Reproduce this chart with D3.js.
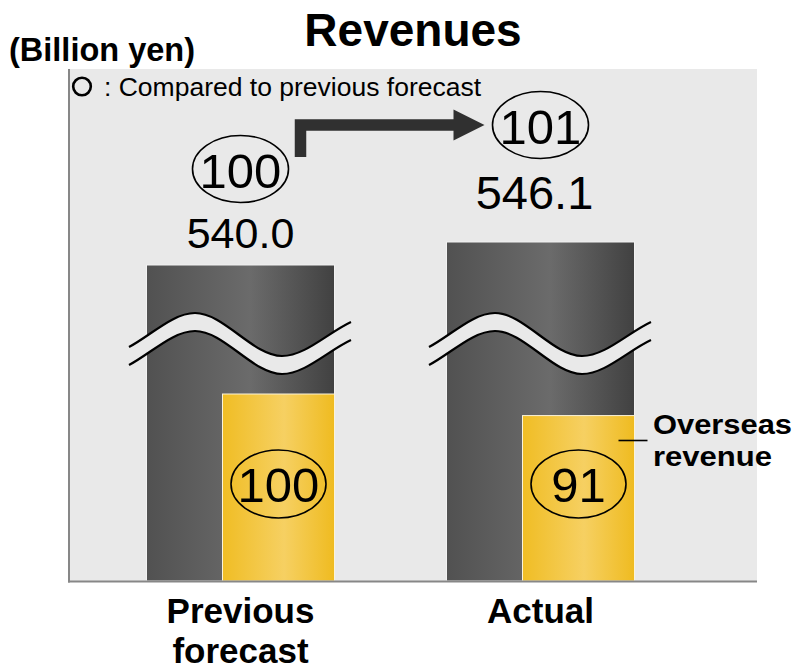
<!DOCTYPE html>
<html>
<head>
<meta charset="utf-8">
<script src="https://cdn.jsdelivr.net/npm/d3@7"></script>
<style>
  html, body { margin: 0; padding: 0; background: #ffffff; }
  svg { display: block; }
  text { font-family: "Liberation Sans", Arial, Helvetica, sans-serif; fill: #000; }
</style>
</head>
<body>
<svg id="chart" width="800" height="668"></svg>
<script>
// Revenues, billion yen
const categories = ["Previous forecast", "Actual"];
const categoryLines = [["Previous", "forecast"], ["Actual"]];
const revenue = [540.0, 546.1];
// Indices compared to the previous forecast (= 100)
const revenueIndex = [100, 101];
const overseasIndex = [100, 91];

const panel = { x0: 68, x1: 757, y0: 69, y1: 581 };
const barW = 188;           // full revenue bar
const overW = 112;          // overseas bar, right-aligned inside the revenue bar
const labelLift = [17, 33]; // value label baseline above the bar top
const valueSize = [43, 47];

const svg = d3.select("#chart");

const x = d3.scalePoint().domain(categories).range([240.5, 540.5]);
// upper (broken) part of the revenue axis
const yRev = d3.scaleLinear().domain([540, 546.1]).range([265, 242]);
// overseas share, drawn below the break on a truncated axis
const yOver = d3.scaleLinear().domain([22, 100]).range([panel.y1, 394]);

// gradients
const defs = svg.append("defs");
const dg = defs.append("linearGradient").attr("id", "darkGrad").attr("x1", 0).attr("x2", 1).attr("y1", 0).attr("y2", 0);
dg.append("stop").attr("offset", "0%").attr("stop-color", "#515151");
dg.append("stop").attr("offset", "55%").attr("stop-color", "#6b6b6b");
dg.append("stop").attr("offset", "100%").attr("stop-color", "#414141");
const yg = defs.append("linearGradient").attr("id", "yellowGrad").attr("x1", 0).attr("x2", 1).attr("y1", 0).attr("y2", 0);
yg.append("stop").attr("offset", "0%").attr("stop-color", "#f0bd24");
yg.append("stop").attr("offset", "55%").attr("stop-color", "#f6d062");
yg.append("stop").attr("offset", "100%").attr("stop-color", "#efbb20");

// plot panel
svg.append("rect")
  .attr("x", panel.x0).attr("y", panel.y0)
  .attr("width", panel.x1 - panel.x0).attr("height", panel.y1 - panel.y0)
  .attr("fill", "#e9e9e9");

// title and unit
svg.append("text").attr("x", 413).attr("y", 46)
  .attr("text-anchor", "middle")
  .attr("font-size", 46).attr("font-weight", "bold")
  .text("Revenues");
svg.append("text").attr("x", 9).attr("y", 61)
  .attr("font-size", 32.5).attr("font-weight", "bold")
  .text("(Billion yen)");

// legend
svg.append("circle").attr("cx", 82).attr("cy", 86.5).attr("r", 8.8)
  .attr("fill", "none").attr("stroke", "#000").attr("stroke-width", 2.6);
svg.append("text").attr("x", 104).attr("y", 96)
  .attr("font-size", 26.5)
  .text(": Compared to previous forecast");

const rows = categories.map((c, i) => ({
  c, i, rev: revenue[i], revIdx: revenueIndex[i], ovIdx: overseasIndex[i], lines: categoryLines[i]
}));

// revenue bars
svg.selectAll("rect.rev").data(rows).join("rect")
  .attr("class", "rev")
  .attr("x", d => x(d.c) - barW / 2)
  .attr("y", d => yRev(d.rev))
  .attr("width", barW)
  .attr("height", d => panel.y1 - yRev(d.rev))
  .attr("fill", "url(#darkGrad)")
  .attr("stroke", "#f2f2f2").attr("stroke-width", 1);

// axis break across each revenue bar
function breakCurve(p, dy) {
  p.moveTo(-111.5, 347 + dy);
  p.bezierCurveTo(-89.5, 335.3 + dy, -67.5, 313 + dy, -45.5, 313 + dy);
  p.bezierCurveTo(-16.5, 313 + dy, 12.5, 356 + dy, 41.5, 356 + dy);
  p.bezierCurveTo(64.5, 356 + dy, 87.5, 332.7 + dy, 110.5, 322 + dy);
}
function breakBand() {
  const p = d3.path();
  breakCurve(p, 0);
  p.lineTo(110.5, 340);
  p.bezierCurveTo(87.5, 350.7, 64.5, 374, 41.5, 374);
  p.bezierCurveTo(12.5, 374, -16.5, 331, -45.5, 331);
  p.bezierCurveTo(-67.5, 331, -89.5, 353.3, -111.5, 365);
  p.closePath();
  return p.toString();
}
const brk = svg.selectAll("g.break").data(rows).join("g")
  .attr("class", "break")
  .attr("transform", d => `translate(${x(d.c)},0)`);
brk.append("path").attr("d", breakBand()).attr("fill", "#e9e9e9");
[0, 18].forEach(dy => {
  const p = d3.path(); breakCurve(p, dy);
  brk.append("path").attr("d", p.toString())
    .attr("fill", "none").attr("stroke", "#000").attr("stroke-width", 2.2);
});

// overseas bars
svg.selectAll("rect.over").data(rows).join("rect")
  .attr("class", "over")
  .attr("x", d => x(d.c) + barW / 2 - overW)
  .attr("y", d => yOver(d.ovIdx))
  .attr("width", overW)
  .attr("height", d => panel.y1 - yOver(d.ovIdx))
  .attr("fill", "url(#yellowGrad)")
  .attr("stroke", "#fbf3d8").attr("stroke-width", 1);

// panel axes (left and bottom)
svg.append("line").attr("x1", 69).attr("x2", 69).attr("y1", panel.y0).attr("y2", panel.y1 + 1.5)
  .attr("stroke", "#878787").attr("stroke-width", 2);
svg.append("line").attr("x1", panel.x0).attr("x2", panel.x1).attr("y1", panel.y1 + 0.5).attr("y2", panel.y1 + 0.5)
  .attr("stroke", "#878787").attr("stroke-width", 2);

// revenue value labels
svg.selectAll("text.val").data(rows).join("text")
  .attr("class", "val")
  .attr("x", d => x(d.c) - (d.i ? 6 : 0))
  .attr("y", d => yRev(d.rev) - labelLift[d.i])
  .attr("text-anchor", "middle")
  .attr("font-size", d => valueSize[d.i])
  .text(d => d.rev.toFixed(1));

// revenue index ellipses
const idxCy = d => yRev(d.rev) - labelLift[d.i] - 79 - (d.i ? 5 : 0);
svg.selectAll("ellipse.ri").data(rows).join("ellipse")
  .attr("class", "ri")
  .attr("cx", d => x(d.c)).attr("cy", idxCy)
  .attr("rx", 48).attr("ry", 33.5)
  .attr("fill", "none").attr("stroke", "#000").attr("stroke-width", 1.6);
svg.selectAll("text.ri").data(rows).join("text")
  .attr("class", "ri")
  .attr("x", d => x(d.c)).attr("y", d => idxCy(d) + 18.5)
  .attr("text-anchor", "middle").attr("font-size", 49)
  .text(d => d.revIdx);

// arrow from previous forecast index to actual index
const a0 = x(categories[0]) + 60, a1 = x(categories[1]) - 56, ay = idxCy(rows[1]);
svg.append("path")
  .attr("d", `M${a0},157 V${ay} H${a1 - 29}`)
  .attr("fill", "none").attr("stroke", "#303030").attr("stroke-width", 11.5)
  .attr("stroke-linejoin", "miter");
svg.append("path")
  .attr("d", `M${a1 - 31},${ay - 15.5} L${a1},${ay} L${a1 - 31},${ay + 15.5} Z`)
  .attr("fill", "#303030");

// overseas index ellipses
const ovCx = d => x(d.c) + barW / 2 - overW / 2;
svg.selectAll("ellipse.oi").data(rows).join("ellipse")
  .attr("class", "oi")
  .attr("cx", ovCx).attr("cy", 484)
  .attr("rx", 47.5).attr("ry", 34)
  .attr("fill", "none").attr("stroke", "#000").attr("stroke-width", 1.6);
svg.selectAll("text.oi").data(rows).join("text")
  .attr("class", "oi")
  .attr("x", ovCx).attr("y", 502)
  .attr("text-anchor", "middle").attr("font-size", 49)
  .text(d => d.ovIdx);

// overseas revenue callout
const right = x(categories[1]) + barW / 2;
svg.append("line").attr("x1", right - 16).attr("x2", right + 13).attr("y1", 440.5).attr("y2", 440.5)
  .attr("stroke", "#000").attr("stroke-width", 1.6);
svg.append("text").attr("x", 653).attr("y", 434)
  .attr("font-size", 28).attr("font-weight", "bold")
  .attr("textLength", 139).attr("lengthAdjust", "spacingAndGlyphs")
  .text("Overseas");
svg.append("text").attr("x", 653).attr("y", 466)
  .attr("font-size", 28).attr("font-weight", "bold")
  .attr("textLength", 119).attr("lengthAdjust", "spacingAndGlyphs")
  .text("revenue");

// category labels
rows.forEach(d => {
  d.lines.forEach((ln, j) => {
    svg.append("text")
      .attr("x", x(d.c))
      .attr("y", 623 + j * 39.5)
      .attr("text-anchor", "middle")
      .attr("font-size", 35).attr("font-weight", "bold")
      .text(ln);
  });
});
</script>
</body>
</html>
